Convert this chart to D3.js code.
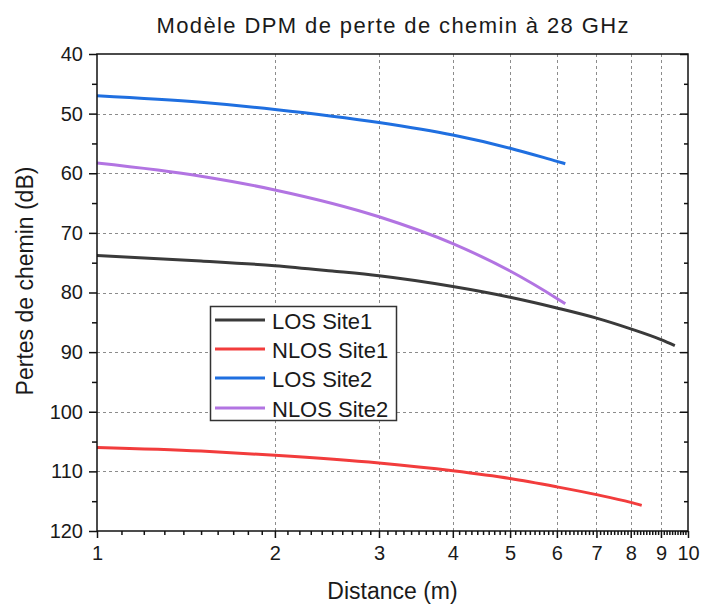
<!DOCTYPE html>
<html>
<head>
<meta charset="utf-8">
<script src="https://cdn.jsdelivr.net/npm/d3@7"></script>
<style>
  body { margin: 0; background: #fff; }
  text { font-family: "Liberation Sans", Arial, sans-serif; fill: #1a1a1a; }
</style>
</head>
<body>
<script>
// data
const seriesNames = ["LOS Site1", "NLOS Site1", "LOS Site2", "NLOS Site2"];
const seriesColors = ["#3a3a3a", "#f23c3c", "#1f6fe0", "#b274e2"];

const losSite1Dist = [1, 1.5, 2, 2.5, 3, 4, 5, 6, 7, 8, 9, 9.5];
const losSite1Loss = [73.8, 74.7, 75.5, 76.4, 77.2, 79.0, 80.8, 82.6, 84.3, 86.1, 87.9, 88.9];

const nlosSite1Dist = [1, 1.5, 2, 3, 4, 5, 6, 7, 8, 8.35];
const nlosSite1Loss = [106.0, 106.6, 107.3, 108.6, 109.9, 111.2, 112.6, 113.9, 115.2, 115.7];

const losSite2Dist = [1, 1.5, 2, 3, 4, 5, 6, 6.2];
const losSite2Loss = [47.0, 48.1, 49.3, 51.5, 53.6, 55.8, 58.0, 58.4];

const nlosSite2Dist = [1, 1.5, 2, 3, 4, 5, 6, 6.2];
const nlosSite2Loss = [58.3, 60.5, 62.8, 67.3, 71.8, 76.4, 81.0, 81.9];

const xTicks = [1, 2, 3, 4, 5, 6, 7, 8, 9, 10];
const yTicks = [40, 50, 60, 70, 80, 90, 100, 110, 120];
const yMinorTicks = [45, 55, 65, 75, 85, 95, 105, 115];

const width = 701, height = 606;
const plotLeft = 97, plotRight = 688, plotTop = 54, plotBottom = 531;

const svg = d3.select("body").append("svg")
  .attr("width", width)
  .attr("height", height);

svg.append("rect").attr("width", width).attr("height", height).attr("fill", "#fff");

const x = d3.scaleLog().domain([1, 10]).range([plotLeft, plotRight]);
const y = d3.scaleLinear().domain([40, 120]).range([plotTop, plotBottom]);

// minor x ticks every 0.1
const xMinorTicks = d3.range(11, 100).filter(function (v) { return v % 10 !== 0; })
  .map(function (v) { return v / 10; });

// gridlines
const grid = svg.append("g")
  .attr("stroke", "#8c8c8c")
  .attr("stroke-width", 1)
  .attr("stroke-dasharray", "3,3");

grid.selectAll(".vg")
  .data(xTicks.slice(1, -1))
  .enter().append("line")
  .attr("x1", function (d) { return Math.round(x(d)) + 0.5; })
  .attr("x2", function (d) { return Math.round(x(d)) + 0.5; })
  .attr("y1", plotTop).attr("y2", plotBottom);

grid.selectAll(".hg")
  .data(yTicks.slice(1, -1))
  .enter().append("line")
  .attr("y1", function (d) { return Math.round(y(d)) + 0.5; })
  .attr("y2", function (d) { return Math.round(y(d)) + 0.5; })
  .attr("x1", plotLeft).attr("x2", plotRight);

// curves
const series = [
  { dist: losSite1Dist, loss: losSite1Loss },
  { dist: nlosSite1Dist, loss: nlosSite1Loss },
  { dist: losSite2Dist, loss: losSite2Loss },
  { dist: nlosSite2Dist, loss: nlosSite2Loss }
];

const line = d3.line()
  .x(function (d) { return x(d[0]); })
  .y(function (d) { return y(d[1]); })
  .curve(d3.curveMonotoneX);

svg.selectAll(".curve")
  .data(series)
  .enter().append("path")
  .attr("class", "curve")
  .attr("fill", "none")
  .attr("stroke", function (d, i) { return seriesColors[i]; })
  .attr("stroke-width", 3)
  .attr("d", function (d) { return line(d3.zip(d.dist, d.loss)); });

// axes
const fontSize = "20px";

const yAxis = svg.append("g")
  .attr("transform", "translate(" + plotLeft + ",0)")
  .call(d3.axisLeft(y).tickValues(yTicks).tickSize(8).tickPadding(6));
yAxis.selectAll("text").style("font-size", fontSize).attr("fill", "#1a1a1a");

svg.append("g")
  .attr("transform", "translate(" + plotLeft + ",0)")
  .call(d3.axisLeft(y).tickValues(yMinorTicks).tickSize(5).tickFormat(""));

svg.append("g")
  .attr("transform", "translate(" + plotRight + ",0)")
  .call(d3.axisLeft(y).tickValues(yTicks).tickSize(8).tickFormat(""));
svg.append("g")
  .attr("transform", "translate(" + plotRight + ",0)")
  .call(d3.axisLeft(y).tickValues(yMinorTicks).tickSize(4).tickFormat(""));

const xAxis = svg.append("g")
  .attr("transform", "translate(0," + plotBottom + ")")
  .call(d3.axisBottom(x).tickValues(xTicks).tickFormat(d3.format("d")).tickSize(7).tickPadding(8));
xAxis.selectAll("text").style("font-size", fontSize).attr("fill", "#1a1a1a");

svg.append("g")
  .attr("transform", "translate(0," + plotBottom + ")")
  .call(d3.axisBottom(x).tickValues(xMinorTicks).tickSize(4).tickFormat(""));

svg.selectAll(".domain").remove();
svg.selectAll(".tick line").attr("stroke", "#111").attr("stroke-width", 1.5);

// frame
svg.append("rect")
  .attr("x", plotLeft).attr("y", plotTop)
  .attr("width", plotRight - plotLeft).attr("height", plotBottom - plotTop)
  .attr("fill", "none")
  .attr("stroke", "#111")
  .attr("stroke-width", 1.5);

// legend
const legend = svg.append("g");
legend.append("rect")
  .attr("x", 210.5).attr("y", 306.5)
  .attr("width", 186).attr("height", 114)
  .attr("fill", "#fff")
  .attr("stroke", "#333")
  .attr("stroke-width", 1.5);

const legendRows = [320, 349, 378, 408];
seriesNames.forEach(function (name, i) {
  legend.append("line")
    .attr("x1", 215).attr("x2", 265)
    .attr("y1", legendRows[i]).attr("y2", legendRows[i])
    .attr("stroke", seriesColors[i])
    .attr("stroke-width", 3);
  legend.append("text")
    .attr("x", 272)
    .attr("y", legendRows[i] + 9)
    .style("font-size", "22px")
    .text(name);
});

// titles
svg.append("text")
  .attr("x", (plotLeft + plotRight) / 2)
  .attr("y", 33)
  .attr("text-anchor", "middle")
  .attr("textLength", 472)
  .attr("lengthAdjust", "spacing")
  .style("font-size", "22px")
  .text("Modèle DPM de perte de chemin à 28 GHz");

svg.append("text")
  .attr("x", (plotLeft + plotRight) / 2)
  .attr("y", 599)
  .attr("text-anchor", "middle")
  .style("font-size", "23px")
  .text("Distance (m)");

svg.append("text")
  .attr("transform", "translate(33,281) rotate(-90)")
  .attr("text-anchor", "middle")
  .style("font-size", "23px")
  .text("Pertes de chemin (dB)");
</script>
</body>
</html>
